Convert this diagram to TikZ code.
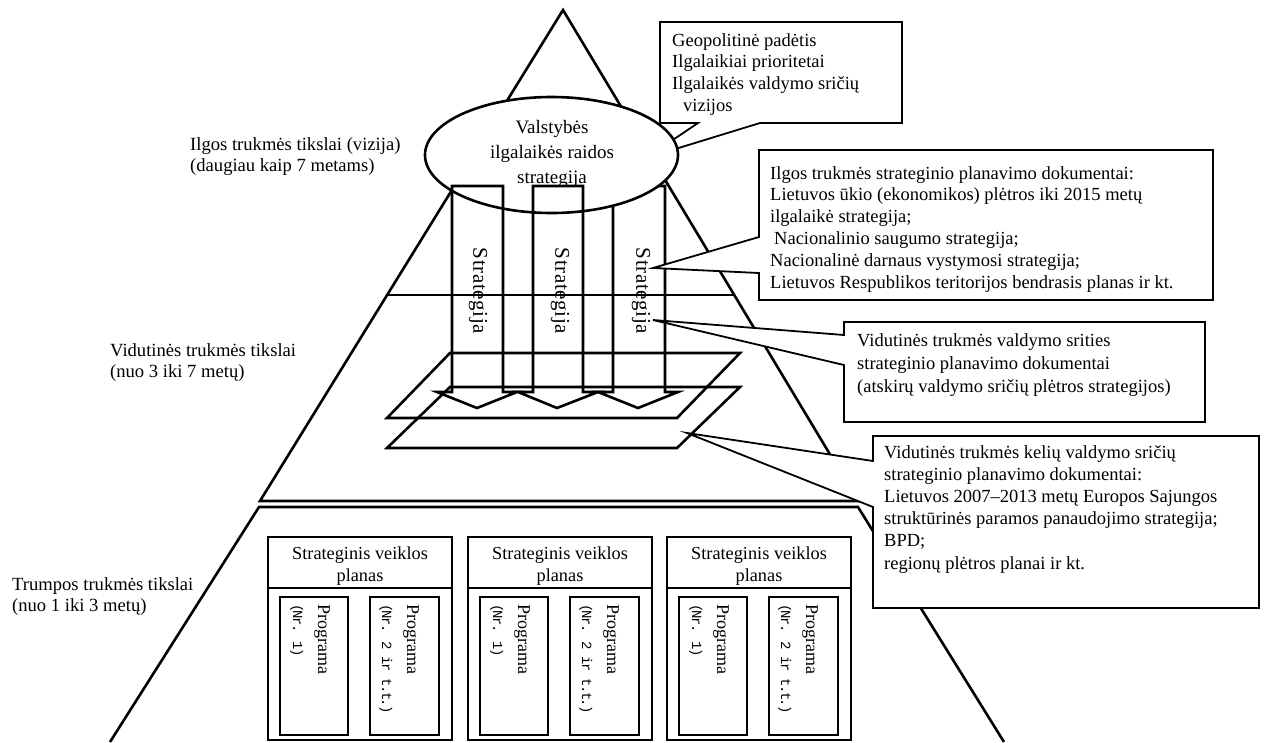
\documentclass[tikz,border=0pt]{standalone}
\usepackage{fontspec}
\setmainfont{Liberation Serif}
\newfontfamily\monofont[LetterSpace=-12]{Liberation Mono}
\newfontfamily\spacedfont[LetterSpace=3]{Liberation Serif}
\usetikzlibrary{shapes.geometric}
\begin{document}
\begin{tikzpicture}[x=1pt,y=-1pt,
  pyr/.style={line width=2.6pt, line join=miter},
  callout/.style={line width=1.8pt, fill=white, line join=miter},
  txt/.style={font=\fontsize{18.5}{21.8}\selectfont, align=left, inner sep=0pt, anchor=north west},
  lbl/.style={font=\fontsize{18.6}{21.5}\selectfont, align=left, inner sep=0pt, anchor=north west},
  stratxt/.style={font=\spacedfont\fontsize{21}{21}\selectfont, rotate=-90, inner sep=0pt},
  planbox/.style={line width=2.6pt},
  thinbox/.style={line width=1.2pt},
  progtxt/.style={rotate=-90, anchor=north west, align=left, inner sep=0pt, font=\fontsize{18}{25}\selectfont},
  plantxt/.style={align=center, inner sep=0pt, font=\fontsize{18.3}{22}\selectfont}
]
\useasboundingbox (0,0) rectangle (1265,742);

% pyramid coordinates
\coordinate (apex) at (563,10);
\coordinate (ul) at (260,501);
\coordinate (ur) at (858,501);
\coordinate (ll) at (259,507);
\coordinate (lr) at (858,507);
\coordinate (bl) at (110,742);
\coordinate (br) at (1004,742);
\coordinate (hl) at (387,295);
\coordinate (hr) at (734,295);

% upper pyramid
\draw[pyr] (apex) -- (ul) -- (ur) -- cycle;
\draw[pyr] (hl) -- (hr);
% lower pyramid
\draw[pyr] (bl) -- (ll) -- (lr) -- (br);

% parallelograms
\draw[pyr] (450,353) -- (740,353) -- (677,418) -- (387,418) -- cycle;
\draw[pyr] (450,387) -- (740,387) -- (677,448) -- (387,448) -- cycle;

% strategy arrow 3 (behind ellipse)
\draw[pyr] (613,186) -- (613,392) -- (598,392) -- (638,408) -- (678,392) -- (665,392) -- (665,186) -- cycle;

% callout A
\draw[callout] (660,22) -- (902,22) -- (902,123) -- (760,123) -- (646,158) -- (698,123) -- (660,123) -- cycle;
\node[txt] (ta) at (672,33) {Geopolitinė padėtis\\Ilgalaikiai prioritetai\\Ilgalaikės valdymo sričių\\\hspace{11pt}vizijos};

% ellipse
\node[ellipse, draw, line width=2.6pt, fill=white, minimum width=253pt, minimum height=116pt, inner sep=0pt] (vision) at (551.5,155) {};
\node[align=center, inner sep=0pt, font=\fontsize{19}{25}\selectfont] (visiontxt) at (552,154) {Valstybės\\ilgalaikės raidos\\strategija};

% strategy arrows 1 and 2
\draw[pyr] (452,186) -- (452,392) -- (437,392) -- (477,408) -- (517,392) -- (503,392) -- (503,186) -- cycle;
\draw[pyr] (533,186) -- (533,392) -- (518,392) -- (557,408) -- (598,392) -- (583,392) -- (583,186) -- cycle;

% callouts B, C, D
\draw[callout] (759,150) -- (1213,150) -- (1213,300) -- (759,300) -- (759,273) -- (653,268) -- (759,237) -- cycle;
\node[txt] (tb) at (770,166) {Ilgos trukmės strateginio planavimo dokumentai:\\Lietuvos ūkio (ekonomikos) plėtros iki 2015 metų\\ilgalaikė strategija;\\\hspace{4pt}Nacionalinio saugumo strategija;\\Nacionalinė darnaus vystymosi strategija;\\Lietuvos Respublikos teritorijos bendrasis planas ir kt.};

\draw[callout] (844,322) -- (1205,322) -- (1205,422) -- (844,422) -- (844,365) -- (653,320) -- (844,335) -- cycle;
\node[txt, font=\fontsize{18.5}{23}\selectfont] (tc) at (857,333) {Vidutinės trukmės valdymo srities\\strateginio planavimo dokumentai\\(atskirų valdymo sričių plėtros strategijos)};

\draw[callout] (873,436) -- (1259,436) -- (1259,608) -- (873,608) -- (873,507) -- (687,433) -- (873,461) -- cycle;
\node[txt, font=\fontsize{18.5}{22.2}\selectfont] (td) at (884,445) {Vidutinės trukmės kelių valdymo sričių\\strateginio planavimo dokumentai:\\Lietuvos 2007–2013 metų Europos Sajungos\\struktūrinės paramos panaudojimo strategija;\\BPD;\\regionų plėtros planai ir kt.};

% Strategija texts
\node[stratxt] (s1) at (478,291) {Strategija};
\node[stratxt] (s2) at (560,291) {Strategija};
\node[stratxt] (s3) at (641,291) {Strategija};

% left labels
\node[lbl] (l1) at (190,137) {Ilgos trukmės tikslai (vizija)\\(daugiau kaip 7 metams)};
\node[lbl] (l2) at (110,343) {Vidutinės trukmės tikslai\\(nuo 3 iki 7 metų)};
\node[lbl] (l3) at (12,577) {Trumpos trukmės tikslai\\(nuo 1 iki 3 metų)};

% strategic plan boxes
\foreach \L/\n in {268/1,468/2,667/3}{
  \draw[planbox] (\L,537) rectangle ({\L+184},740);
  \draw[thinbox] (\L,588) -- ({\L+184},588);
  \node[plantxt] (plan\n) at ({\L+92},566) {Strateginis veiklos\\planas};
  \draw[thinbox] ({\L+12},597) rectangle ({\L+80},735);
  \draw[thinbox] ({\L+102},597) rectangle ({\L+171},735);
  \node[progtxt] (pa\n) at ({\L+62},604) {Programa\\{\monofont\fontsize{14}{25}\selectfont (Nr. 1)}};
  \node[progtxt] (pb\n) at ({\L+151},604) {Programa\\{\monofont\fontsize{14}{25}\selectfont (Nr. 2 ir t.t.)}};
}
\end{tikzpicture}
\end{document}
